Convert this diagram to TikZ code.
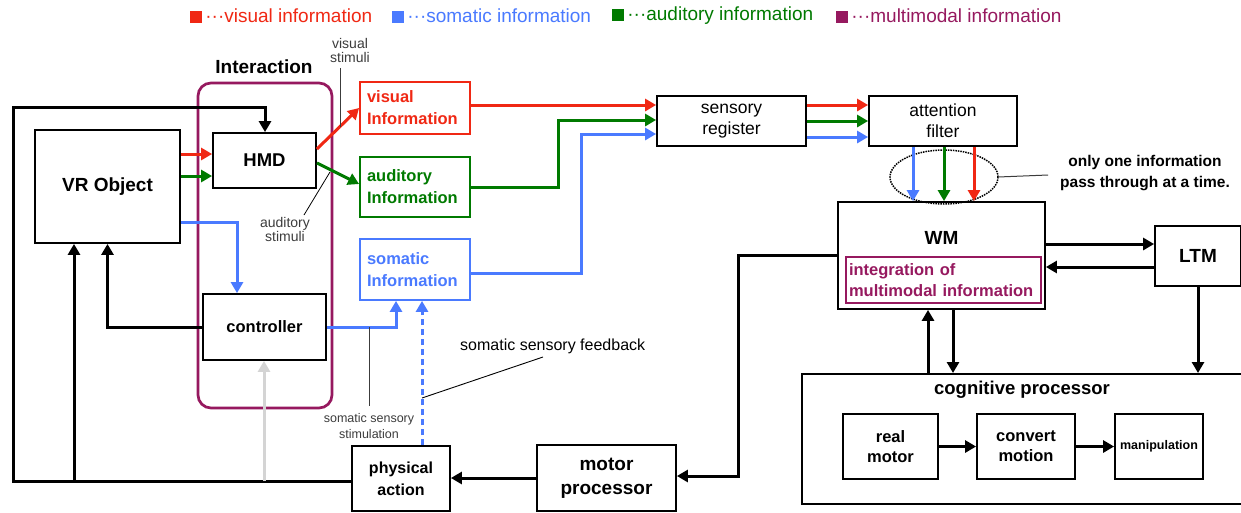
\documentclass[tikz,border=0pt]{standalone}
\usepackage{fontspec}
\setmainfont{Liberation Sans}
\usetikzlibrary{arrows.meta,calc}
\definecolor{vred}{RGB}{240,40,20}
\definecolor{sblue}{RGB}{74,122,255}
\definecolor{agreen}{RGB}{0,122,0}
\definecolor{mpurple}{RGB}{150,25,95}
\definecolor{lgray}{RGB}{212,212,212}
\definecolor{tgray}{RGB}{60,60,60}
\begin{document}
\begin{tikzpicture}[x=1pt,y=-1pt,
  box/.style={draw=black, line width=1.8pt, inner sep=0pt, font=\bfseries\fontsize{16.5}{20}\selectfont, align=center},
  infobox/.style={draw, line width=1.8pt, inner sep=0pt, font=\bfseries\fontsize{16.5}{22}\selectfont, align=left, text width=96pt},
  conn/.style={line width=3pt, -{Triangle[length=11pt,width=12pt]}},
  note/.style={draw=tgray, line width=1pt},
  small/.style={font=\fontsize{14}{14}\selectfont, text=tgray, align=center, inner sep=0pt},
  leg/.style={font=\fontsize{19}{20}\selectfont, anchor=west, inner sep=0pt}
]
\useasboundingbox (0,0) rectangle (1241,512);
\fill[white] (0,0) rectangle (1241,512);

% legend
\node[leg, text=vred] (l1) at (190,16) {\rule{12pt}{12pt}\,···visual information};
\node[leg, text=sblue] (l2) at (392,16) {\rule{12pt}{12pt}\,···somatic information};
\node[leg, text=agreen] (l3) at (612,16) {\rule{12pt}{12pt}\,···auditory information};
\node[leg, text=mpurple] (l4) at (836,16) {\rule{12pt}{12pt}\,···multimodal information};

% interaction frame
\draw[mpurple, line width=2.7pt, rounded corners=13pt] (198,83) rectangle (332,408);
\node[font=\bfseries\fontsize{19}{20}\selectfont] (inter) at (264,67) {Interaction};

% boxes
\node[box, minimum width=145pt, minimum height=113pt, font=\bfseries\fontsize{19}{20}\selectfont] (vr) at (107.5,186.5) {VR Object};
\node[box, minimum width=103pt, minimum height=55pt, font=\bfseries\fontsize{18.5}{20}\selectfont] (hmd) at (264.5,160.5) {HMD};
\node[box, minimum width=123pt, minimum height=66pt] (ctrl) at (264.5,327) {controller};
\node[infobox, draw=vred, text=vred, minimum width=110pt, minimum height=52pt] (vis) at (415,108) {visual\\Information};
\node[infobox, draw=agreen, text=agreen, minimum width=110pt, minimum height=60pt] (aud) at (415,187) {auditory\\Information};
\node[infobox, draw=sblue, text=sblue, minimum width=110pt, minimum height=61pt] (som) at (415,269.5) {somatic\\Information};
\node[box, minimum width=149pt, minimum height=50pt, font=\fontsize{17.5}{21}\selectfont] (sr) at (731.5,121) {sensory\\register};
\node[box, minimum width=148pt, minimum height=50pt, font=\fontsize{17.5}{21}\selectfont] (af) at (943,121) {attention\\filter};
\node[box, minimum width=207pt, minimum height=107pt] (wm) at (941.5,255.5) {};
\node[font=\bfseries\fontsize{19}{20}\selectfont] (wmt) at (941.5,238) {WM};
\node[draw=mpurple, line width=1.5pt, minimum width=195pt, minimum height=46pt, inner sep=0pt, text width=189pt, align=left, text=mpurple, font=\bfseries\fontsize{16.5}{21}\selectfont] (integ) at (943.5,280) {integration of\\multimodal information};
\node[box, minimum width=86pt, minimum height=60pt, font=\bfseries\fontsize{19}{20}\selectfont] (ltm) at (1198,256) {LTM};
\node[box, minimum width=449pt, minimum height=130pt, anchor=north west] (cog) at (801,373) {};
\node[font=\bfseries\fontsize{18.5}{20}\selectfont] (cogt) at (1022,390) {cognitive processor};
\node[box, minimum width=95pt, minimum height=65pt] (real) at (890.5,446.5) {real\\motor};
\node[box, minimum width=98pt, minimum height=65pt] (conv) at (1026,446.5) {convert\\motion};
\node[box, minimum width=88pt, minimum height=65pt, font=\bfseries\fontsize{12.5}{14}\selectfont] (manip) at (1159,446.5) {manipulation};
\node[box, minimum width=139pt, minimum height=66pt, font=\bfseries\fontsize{19}{24}\selectfont] (motor) at (606.5,478) {motor\\processor};
\node[box, minimum width=98pt, minimum height=65pt, font=\bfseries\fontsize{16}{22}\selectfont] (phys) at (401,478.5) {physical\\action};

% ellipse
\draw[densely dotted, line width=1.5pt] (944,177) ellipse [x radius=54, y radius=27];
\coordinate (ell) at (998,177);

% notes
\node[small] (vst) at (350,50) {visual\\stimuli};
\node[small] (ast) at (285,229) {auditory\\stimuli};
\node[small, font=\fontsize{12.5}{16}\selectfont] (sst) at (369,426) {somatic sensory\\stimulation};
\node[small, font=\fontsize{16}{18}\selectfont, anchor=west, text=black] (sfb) at (460,346) {somatic sensory feedback};
\node[font=\bfseries\fontsize{15.5}{21}\selectfont, align=center] (one) at (1145,173) {only one information\\pass through at a time.};

% connectors: outer loop
\coordinate (j1) at (74,481);
\coordinate (j2) at (264,481);
\draw[conn] (phys.west |- 0,481) -- (13,481) -- (13,107) -- (265,107) -- (hmd.north -| 265,0);
\draw[conn] (j1) -- (j1 |- vr.south);
\draw[conn, lgray] (j2) -- (j2 |- ctrl.south);
\draw[conn] (ctrl.west) -| (vr.south);

% VR -> HMD
\draw[conn, vred] (vr.east |- 0,154) -- (hmd.west |- 0,154);
\draw[conn, agreen] (vr.east |- 0,176) -- (hmd.west |- 0,176);
\draw[conn, sblue] (vr.east |- 0,222) -- (237,222) -- (ctrl.north -| 237,0);

% HMD -> info
\draw[conn, vred] (hmd.east |- 0,149) -- (vis.west |- 0,108);
\draw[conn, agreen] (hmd.east |- 0,163) -- (aud.west |- 0,184);

% controller -> somatic
\draw[conn, sblue] (ctrl.east) -- (396,327) -- (som.south -| 396,0);
\draw[conn, sblue, dash pattern=on 6pt off 4pt] (phys.north -| 422,0) -- (som.south -| 422,0);

% info -> sensory register
\draw[conn, vred] (vis.east |- 0,105) -- (sr.west |- 0,105);
\draw[conn, agreen] (aud.east) -- (558,187) -- (558,120) -- (sr.west |- 0,120);
\draw[conn, sblue] (som.east |- 0,273) -- (581,273) -- (581,134) -- (sr.west |- 0,134);

% sr -> af
\draw[conn, vred] (sr.east |- 0,105) -- (af.west |- 0,105);
\draw[conn, agreen] (sr.east |- 0,121) -- (af.west |- 0,121);
\draw[conn, sblue] (sr.east |- 0,137) -- (af.west |- 0,137);

% af -> wm
\draw[conn, sblue] (af.south -| 913,0) -- (wm.north -| 913,0);
\draw[conn, agreen] (af.south -| 944,0) -- (wm.north -| 944,0);
\draw[conn, vred] (af.south -| 974,0) -- (wm.north -| 974,0);

% wm <-> ltm
\draw[conn] (wm.east |- 0,244) -- (ltm.west |- 0,244);
\draw[conn] (ltm.west |- 0,267) -- (wm.east |- 0,267);
\draw[conn] (ltm.south) -- (ltm.south |- cog.north);
\draw[conn] (cog.north -| 928,0) -- (wm.south -| 928,0);
\draw[conn] (wm.south -| 953,0) -- (cog.north -| 953,0);

% wm -> motor -> physical
\draw[conn] (wm.west) -- (738,255.5) -- (738,476) -- (motor.east |- 0,476);
\draw[conn] (motor.west) -- (phys.east |- motor.west);

% cognitive internal
\draw[conn] (real.east) -- (conv.west);
\draw[conn] (conv.east) -- (manip.west);

% annotation lines
\draw[note] (340,68) -- (340,127);
\draw[note, draw=black, line width=0.8pt] (304,215) -- (330,172);
\draw[note] (369,327) -- (369,406);
\draw[note, draw=black, line width=0.9pt] (422,398) -- (543,357);
\draw[note] (ell) -- (1048,175);
\end{tikzpicture}
\end{document}
